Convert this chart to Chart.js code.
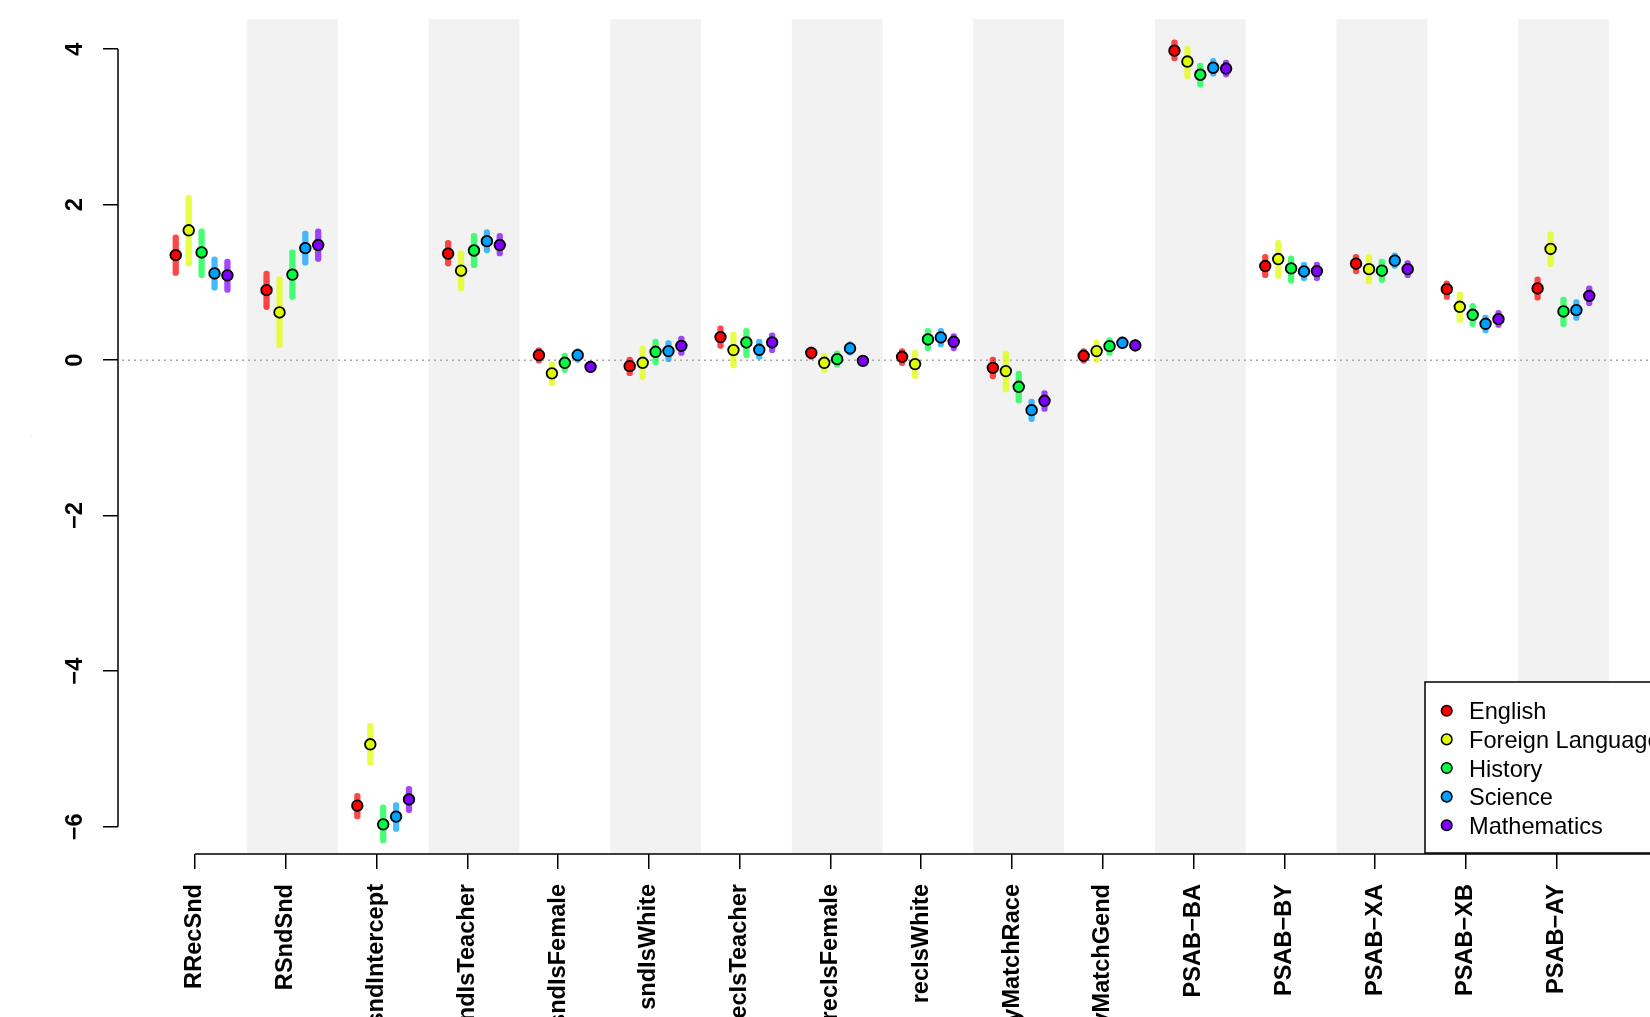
<!DOCTYPE html>
<html>
<head>
<meta charset="utf-8">
<script src="https://cdn.jsdelivr.net/npm/chart.js@4.4.1/dist/chart.umd.min.js"></script>
<style>
  html, body { margin: 0; padding: 0; background: #ffffff; overflow: hidden; }
  #wrap { position: relative; width: 1650px; height: 1017px; }
</style>
</head>
<body>
<div id="wrap"><canvas id="chart"></canvas></div>
<script>
// ---- data -------------------------------------------------------------
const categories = [
  'RRecSnd', 'RSndSnd', 'sndIntercept', 'sndIsTeacher', 'sndIsFemale',
  'sndIsWhite', 'recIsTeacher', 'recIsFemale', 'recIsWhite', 'dyMatchRace',
  'dyMatchGend', 'PSAB\u2212BA', 'PSAB\u2212BY', 'PSAB\u2212XA', 'PSAB\u2212XB', 'PSAB\u2212AY'
];
const subjects = ['English', 'Foreign Language', 'History', 'Science', 'Mathematics'];
const yTicks = [-6, -4, -2, 0, 2, 4];

const englishEst = [1.35, 0.90, -5.73, 1.37, 0.064, -0.077, 0.296, 0.094, 0.043, -0.099, 0.056, 3.98, 1.21, 1.24, 0.913, 0.922];
const englishLo  = [1.09, 0.65, -5.90, 1.21, -0.04, -0.20, 0.15, 0.00, -0.07, -0.24, -0.04, 3.85, 1.06, 1.11, 0.78, 0.77];
const englishHi  = [1.61, 1.145, -5.57, 1.54, 0.16, 0.04, 0.44, 0.17, 0.15, 0.04, 0.15, 4.12, 1.36, 1.36, 1.02, 1.07];

const foreignEst = [1.67, 0.613, -4.94, 1.15, -0.17, -0.034, 0.129, -0.034, -0.051, -0.141, 0.116, 3.84, 1.30, 1.17, 0.686, 1.43];
const foreignLo  = [1.21, 0.16, -5.21, 0.89, -0.33, -0.25, -0.10, -0.16, -0.24, -0.41, -0.03, 3.62, 1.05, 0.98, 0.485, 1.20];
const foreignHi  = [2.12, 1.07, -4.67, 1.41, -0.02, 0.18, 0.36, 0.09, 0.13, 0.12, 0.26, 4.04, 1.54, 1.36, 0.88, 1.65];

const historyEst = [1.385, 1.10, -5.97, 1.41, -0.034, 0.107, 0.227, 0.013, 0.266, -0.343, 0.18, 3.67, 1.18, 1.15, 0.583, 0.626];
const historyLo  = [1.06, 0.78, -6.21, 1.19, -0.16, -0.06, 0.03, -0.09, 0.12, -0.55, 0.06, 3.51, 0.99, 1.00, 0.43, 0.43];
const historyHi  = [1.69, 1.42, -5.72, 1.63, 0.09, 0.27, 0.41, 0.12, 0.41, -0.14, 0.29, 3.82, 1.34, 1.30, 0.73, 0.81];

const scienceEst = [1.115, 1.44, -5.87, 1.53, 0.064, 0.116, 0.133, 0.15, 0.292, -0.643, 0.223, 3.76, 1.14, 1.28, 0.467, 0.643];
const scienceLo  = [0.90, 1.22, -6.06, 1.38, -0.03, -0.02, 0.00, 0.064, 0.17, -0.79, 0.15, 3.65, 1.02, 1.18, 0.35, 0.51];
const scienceHi  = [1.33, 1.66, -5.69, 1.68, 0.15, 0.25, 0.27, 0.24, 0.41, -0.50, 0.30, 3.88, 1.26, 1.38, 0.58, 0.78];

const mathEst = [1.09, 1.48, -5.65, 1.48, -0.086, 0.184, 0.227, -0.009, 0.236, -0.523, 0.189, 3.75, 1.145, 1.17, 0.527, 0.827];
const mathLo  = [0.87, 1.27, -5.82, 1.34, -0.16, 0.06, 0.094, -0.07, 0.12, -0.66, 0.13, 3.64, 1.02, 1.06, 0.42, 0.70];
const mathHi  = [1.30, 1.69, -5.48, 1.63, 0.00, 0.31, 0.35, 0.04, 0.34, -0.39, 0.26, 3.86, 1.26, 1.28, 0.64, 0.955];

const estimates = [englishEst, foreignEst, historyEst, scienceEst, mathEst];
const lowers    = [englishLo, foreignLo, historyLo, scienceLo, mathLo];
const uppers    = [englishHi, foreignHi, historyHi, scienceHi, mathHi];

// ---- style / layout ---------------------------------------------------
const COLORS = ['#FF0000', '#DFFF00', '#00FF40', '#00A0FF', '#8000FF'];
const BAR_ALPHA = 0.72;
const DODGE = [-0.211, -0.068, 0.074, 0.216, 0.358];   // horizontal shift per subject
const BAND_FROM = -0.426, BAND_TO = 0.574;               // shaded strip around every 2nd category
const X_MIN = 0.153, X_MAX = 17.027;
const Y_MIN = -6.351, Y_MAX = 4.387;
const FONT = '"Liberation Sans", Arial, Helvetica, sans-serif';
const FS = 23.6;

function withAlpha(hex, a) {
  const n = parseInt(hex.slice(1), 16);
  return `rgba(${(n >> 16) & 255},${(n >> 8) & 255},${n & 255},${a})`;
}

const datasets = [];
subjects.forEach((name, k) => {
  datasets.push({
    type: 'bar',
    label: name,
    data: categories.map((c, i) => ({ x: i + 1 + DODGE[k], y: [lowers[k][i], uppers[k][i]] })),
    backgroundColor: withAlpha(COLORS[k], BAR_ALPHA),
    borderWidth: 0,
    barThickness: 5.6,
    borderRadius: 3,
    borderSkipped: false,
    grouped: false,
    order: 2
  });
});
subjects.forEach((name, k) => {
  datasets.push({
    type: 'scatter',
    label: name,
    data: categories.map((c, i) => ({ x: i + 1 + DODGE[k], y: estimates[k][i] })),
    pointRadius: 5.3,
    pointBorderWidth: 1.8,
    pointBorderColor: '#000000',
    pointBackgroundColor: COLORS[k],
    order: 1
  });
});

// shaded strips + dotted zero reference line
const backdrop = {
  id: 'backdrop',
  beforeDatasetsDraw(chart) {
    const { ctx, chartArea: a, scales: { x, y } } = chart;
    ctx.save();
    ctx.beginPath();
    ctx.rect(a.left, a.top, a.right - a.left, a.bottom - a.top);
    ctx.clip();
    ctx.fillStyle = '#F2F2F2';
    for (let i = 2; i <= categories.length + 2; i += 2) {
      const x0 = x.getPixelForValue(i + BAND_FROM);
      const x1 = x.getPixelForValue(i + BAND_TO);
      ctx.fillRect(x0, a.top, x1 - x0, a.bottom - a.top);
    }
    const y0 = y.getPixelForValue(0);
    ctx.strokeStyle = '#A6A6A6';
    ctx.lineWidth = 1.5;
    ctx.setLineDash([2, 4]);
    ctx.beginPath();
    ctx.moveTo(a.left + 4, y0);
    ctx.lineTo(a.right, y0);
    ctx.stroke();
    ctx.restore();
  }
};

// axis lines running between the outer ticks, and the legend box
const axesAndLegend = {
  id: 'axesAndLegend',
  afterDraw(chart) {
    const { ctx, chartArea: a, scales: { x, y } } = chart;
    ctx.save();
    ctx.strokeStyle = '#000000';
    ctx.lineWidth = 1.5;
    ctx.beginPath();
    ctx.moveTo(a.left, y.getPixelForValue(yTicks[yTicks.length - 1]));
    ctx.lineTo(a.left, y.getPixelForValue(yTicks[0]));
    ctx.moveTo(x.getPixelForValue(1), a.bottom);
    ctx.lineTo(a.right, a.bottom);
    ctx.stroke();

    // legend
    const lx = 1425, ly = 682, lh = a.bottom - 1 - ly;
    ctx.fillStyle = '#ffffff';
    ctx.fillRect(lx, ly, 320, lh);
    ctx.strokeRect(lx, ly, 320, lh);
    ctx.font = `${FS}px ${FONT}`;
    ctx.textAlign = 'left';
    ctx.textBaseline = 'alphabetic';
    subjects.forEach((name, k) => {
      const cy = ly + 28.7 + k * 28.65;
      ctx.beginPath();
      ctx.arc(lx + 21.7, cy, 5.3, 0, Math.PI * 2);
      ctx.fillStyle = COLORS[k];
      ctx.fill();
      ctx.lineWidth = 1.5;
      ctx.stroke();
      ctx.fillStyle = '#000000';
      ctx.fillText(name, lx + 44, cy + 8.5);
    });
    ctx.restore();
  }
};

const tickFont = { family: FONT, size: FS, weight: 'bold' };

new Chart(document.getElementById('chart'), {
  type: 'bar',
  data: { datasets },
  options: {
    responsive: true,
    maintainAspectRatio: false,
    animation: false,
    events: [],
    layout: { autoPadding: false, padding: { top: 19, left: 0, right: 0, bottom: 0 } },
    plugins: { legend: { display: false }, tooltip: { enabled: false } },
    scales: {
      x: {
        type: 'linear',
        min: X_MIN,
        max: X_MAX,
        bounds: 'data',
        offset: false,
        afterBuildTicks: s => { s.ticks = categories.map((c, i) => ({ value: i + 1 })); },
        afterFit: s => { s.height = 163; s.paddingLeft = 0; s.paddingRight = 0; },
        border: { display: false },
        grid: { offset: false, drawOnChartArea: false, drawTicks: true, tickLength: 15, color: '#000000', lineWidth: 1.5 },
        ticks: {
          autoSkip: false,
          minRotation: 90,
          maxRotation: 90,
          padding: 15,
          color: '#000000',
          font: tickFont,
          callback: (v, i) => categories[i]
        }
      },
      y: {
        type: 'linear',
        min: Y_MIN,
        max: Y_MAX,
        bounds: 'data',
        afterBuildTicks: s => { s.ticks = yTicks.map(v => ({ value: v })); },
        afterFit: s => { s.width = 118; s.paddingTop = 0; s.paddingBottom = 0; },
        border: { display: false },
        grid: { offset: false, drawOnChartArea: false, drawTicks: true, tickLength: 15, color: '#000000', lineWidth: 1.5 },
        title: { display: true, text: '.', color: '#777777', font: { family: FONT, size: 4 }, padding: { top: 28, bottom: 0 } },
        ticks: {
          minRotation: 90,
          maxRotation: 90,
          crossAlign: 'center',
          padding: 14.5,
          color: '#000000',
          font: tickFont,
          callback: v => String(v).replace('-', '\u2212')
        }
      }
    }
  },
  plugins: [backdrop, axesAndLegend]
});
</script>
</body>
</html>
